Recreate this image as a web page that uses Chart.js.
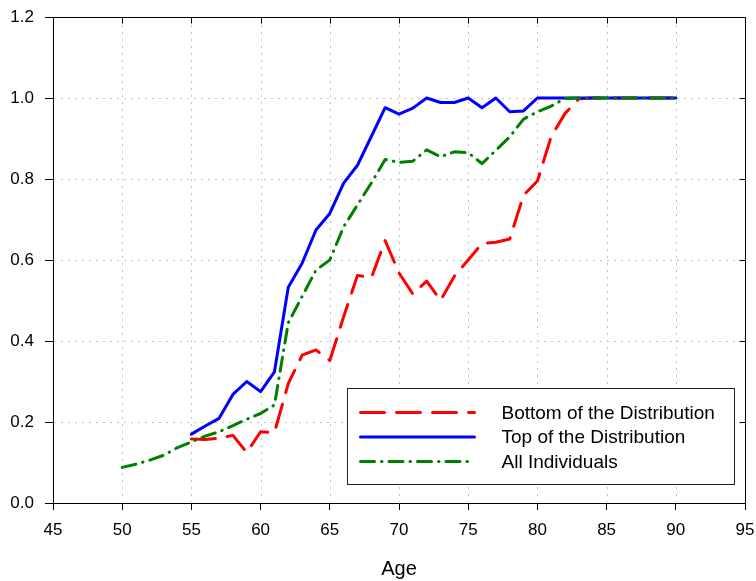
<!DOCTYPE html>
<html>
<head>
<meta charset="utf-8">
<script src="https://cdn.jsdelivr.net/npm/chart.js@4"></script>
<style>
  body { margin: 0; background: #fff; }
</style>
</head>
<body>
<canvas id="grafica" width="756" height="581"></canvas>
<script>
// Edades y series
const edadesTodos = [50, 51, 52, 53, 54, 55, 56, 57, 58, 59, 60, 61, 62, 63, 64, 65, 66, 67, 68, 69,
  70, 71, 72, 73, 74, 75, 76, 77, 78, 79, 80, 81, 82, 83, 84, 85, 86, 87, 88, 89, 90];
const edadesGrupos = [55, 56, 57, 58, 59, 60, 61, 62, 63, 64, 65, 66, 67, 68, 69,
  70, 71, 72, 73, 74, 75, 76, 77, 78, 79, 80, 81, 82, 83, 84, 85, 86, 87, 88, 89, 90];

const fondoDistribucion = [0.158, 0.157, 0.160, 0.167, 0.125, 0.176, 0.174, 0.295, 0.365, 0.378,
  0.352, 0.460, 0.562, 0.556, 0.648, 0.568, 0.516, 0.548, 0.500, 0.560,
  0.600, 0.641, 0.644, 0.652, 0.760, 0.795, 0.905, 0.962, 0.998, 1.0,
  1.0, 1.0, 1.0, 1.0, 1.0, 1.0];
const topeDistribucion = [0.170, 0.190, 0.209, 0.268, 0.300, 0.275, 0.324, 0.533, 0.592, 0.674,
  0.715, 0.790, 0.834, 0.905, 0.976, 0.960, 0.975, 1.0, 0.989, 0.989,
  1.0, 0.976, 1.0, 0.966, 0.968, 1.0, 1.0, 1.0, 1.0, 1.0,
  1.0, 1.0, 1.0, 1.0, 1.0, 1.0];
const todosIndividuos = [0.088, 0.096, 0.106, 0.118, 0.137, 0.151, 0.165, 0.176, 0.191, 0.207,
  0.221, 0.242, 0.445, 0.510, 0.575, 0.600, 0.682, 0.736, 0.790, 0.848,
  0.841, 0.844, 0.872, 0.855, 0.867, 0.865, 0.838, 0.871, 0.904, 0.948,
  0.966, 0.980, 0.999, 1.0, 1.0, 1.0, 1.0, 1.0, 1.0, 1.0, 1.0];

const etiquetas = ["Bottom of the Distribution", "Top of the Distribution", "All Individuals"];

const puntos = (edades, valores) => edades.map((e, i) => ({ x: e, y: valores[i] }));

const FUENTE = "'Liberation Sans', Arial, sans-serif";

// Rejilla punteada (sin tocar los bordes), marco superior/derecho con marcas hacia dentro
const marcoYRejilla = {
  id: 'marcoYRejilla',
  beforeDatasetsDraw(chart) {
    const { ctx, chartArea: a, scales: { x, y } } = chart;
    ctx.save();
    ctx.strokeStyle = '#c4c4c4';
    ctx.lineWidth = 1;
    ctx.setLineDash([2, 5]);
    x.ticks.forEach(t => {
      if (t.value === x.min || t.value === x.max) return;
      const px = Math.round(x.getPixelForValue(t.value)) + 0.5;
      ctx.beginPath(); ctx.moveTo(px, a.top + 1); ctx.lineTo(px, a.bottom - 1); ctx.stroke();
    });
    y.ticks.forEach(t => {
      if (t.value === y.min || t.value === y.max) return;
      const py = Math.round(y.getPixelForValue(t.value)) + 0.5;
      ctx.beginPath(); ctx.moveTo(a.left + 1, py); ctx.lineTo(a.right - 1, py); ctx.stroke();
    });
    ctx.restore();
  },
  afterDraw(chart) {
    const { ctx, chartArea: a, scales: { x, y } } = chart;
    ctx.save();
    ctx.strokeStyle = '#000';
    ctx.lineWidth = 1;
    const top = Math.round(a.top) + 0.5;
    const right = Math.round(a.right) + 0.5;
    ctx.beginPath();
    ctx.moveTo(a.left, top); ctx.lineTo(right, top); ctx.lineTo(right, a.bottom);
    ctx.stroke();
    x.ticks.forEach(t => {
      const px = Math.round(x.getPixelForValue(t.value)) + 0.5;
      ctx.beginPath(); ctx.moveTo(px, top); ctx.lineTo(px, top + 6); ctx.stroke();
    });
    y.ticks.forEach(t => {
      const py = Math.round(y.getPixelForValue(t.value)) + 0.5;
      ctx.beginPath(); ctx.moveTo(right, py); ctx.lineTo(right - 6, py); ctx.stroke();
    });
    ctx.restore();
  }
};

// Leyenda dentro del área del gráfico, abajo a la derecha
const leyendaInterna = {
  id: 'leyendaInterna',
  afterDraw(chart) {
    const { ctx, chartArea: a } = chart;
    const ancho = 387, alto = 96;
    const x0 = Math.round(a.right - 11 - ancho) + 0.5;
    const y0 = Math.round(a.bottom - 19 - alto) + 0.5;
    ctx.save();
    ctx.fillStyle = '#fff';
    ctx.fillRect(x0, y0, ancho, alto);
    ctx.strokeStyle = '#222';
    ctx.lineWidth = 1;
    ctx.strokeRect(x0, y0, ancho, alto);
    chart.data.datasets.forEach((ds, i) => {
      const yy = y0 + 24 + i * 24.5;
      ctx.strokeStyle = ds.borderColor;
      ctx.lineWidth = ds.borderWidth;
      ctx.lineCap = ds.borderCapStyle;
      ctx.setLineDash(ds.borderDash || []);
      ctx.beginPath();
      ctx.moveTo(x0 + 13, yy);
      ctx.lineTo(x0 + 127, yy);
      ctx.stroke();
      ctx.setLineDash([]);
      ctx.fillStyle = '#000';
      ctx.font = `19px ${FUENTE}`;
      ctx.textBaseline = 'middle';
      ctx.fillText(ds.label, x0 + 154, yy + 1);
    });
    ctx.restore();
  }
};

new Chart(document.getElementById('grafica'), {
  type: 'line',
  data: {
    datasets: [
      {
        label: etiquetas[0],
        data: puntos(edadesGrupos, fondoDistribucion),
        borderColor: '#ff0000',
        borderWidth: 3,
        borderDash: [24, 12],
        borderCapStyle: 'round',
        borderJoinStyle: 'round',
        pointRadius: 0,
        order: 3
      },
      {
        label: etiquetas[1],
        data: puntos(edadesGrupos, topeDistribucion),
        borderColor: '#0000ff',
        borderWidth: 3,
        borderCapStyle: 'round',
        borderJoinStyle: 'round',
        pointRadius: 0,
        order: 2
      },
      {
        label: etiquetas[2],
        data: puntos(edadesTodos, todosIndividuos),
        borderColor: '#008000',
        borderWidth: 3,
        borderDash: [14, 7, 0.5, 7],
        borderCapStyle: 'round',
        borderJoinStyle: 'round',
        pointRadius: 0,
        order: 1
      }
    ]
  },
  options: {
    responsive: false,
    animation: false,
    layout: { padding: { top: 17, right: 11, left: 0, bottom: 0 }, autoPadding: false },
    plugins: {
      legend: { display: false },
      tooltip: { enabled: false }
    },
    scales: {
      x: {
        type: 'linear',
        min: 45,
        max: 95,
        ticks: { stepSize: 5, color: '#000', font: { family: FUENTE, size: 17 }, padding: 10, maxRotation: 0 },
        grid: { drawOnChartArea: false, tickLength: 7, tickColor: '#000' },
        border: { color: '#000', width: 1 },
        title: { display: true, text: 'Age', color: '#000', font: { family: FUENTE, size: 20 }, padding: 0 },
        afterFit: scale => {
          scale.height = 78;
          scale.paddingLeft = 0;
          scale.paddingRight = 0;
        }
      },
      y: {
        min: 0,
        max: 1.2,
        ticks: {
          stepSize: 0.2,
          color: '#000',
          font: { family: FUENTE, size: 17 },
          padding: 11,
          callback: valor => valor.toFixed(1)
        },
        grid: { drawOnChartArea: false, tickLength: 8, tickColor: '#000' },
        border: { color: '#000', width: 1 },
        afterFit: scale => {
          scale.width = 53;
          scale.paddingTop = 0;
          scale.paddingBottom = 0;
        }
      }
    }
  },
  plugins: [marcoYRejilla, leyendaInterna]
});
</script>
</body>
</html>
